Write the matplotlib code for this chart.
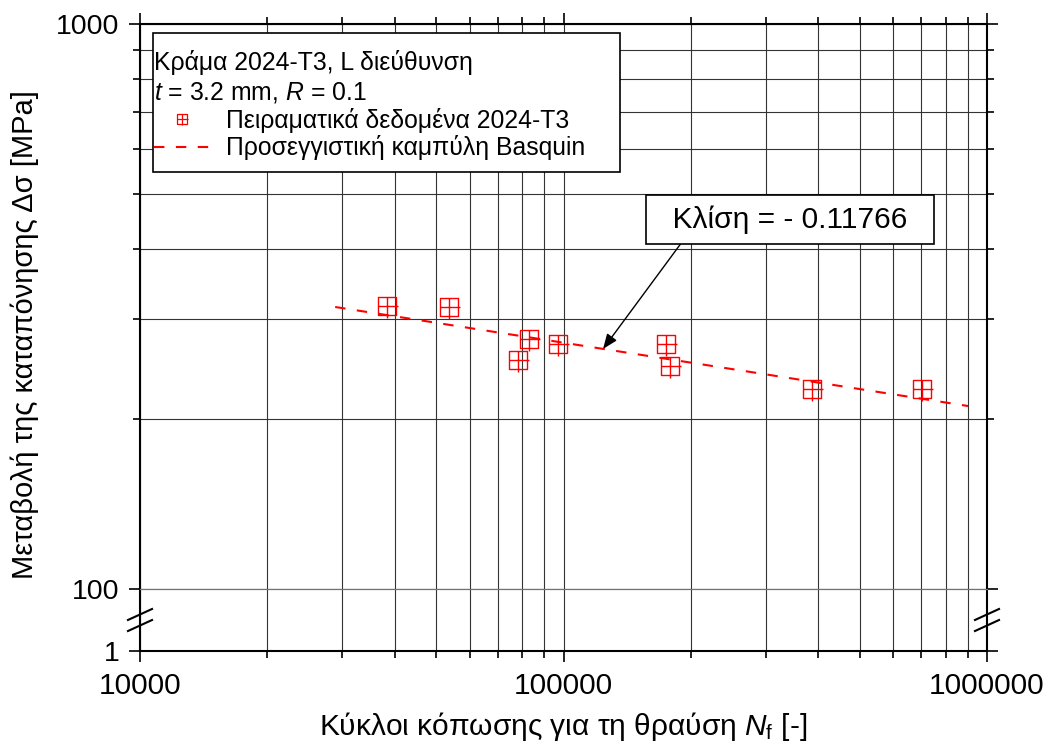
import matplotlib
matplotlib.use("Agg")
import numpy as np
import matplotlib.pyplot as plt
from matplotlib.path import Path
from matplotlib.lines import Line2D
from matplotlib.patches import Rectangle
from matplotlib.ticker import FixedLocator, LogLocator, NullFormatter, FixedFormatter

plt.rcParams['font.family'] = ['Liberation Sans', 'DejaVu Sans']
plt.rcParams['mathtext.fontset'] = 'custom'
plt.rcParams['mathtext.rm'] = 'Liberation Sans'
plt.rcParams['mathtext.it'] = 'Liberation Sans:italic'

# experimental points (cycles to failure, stress range MPa)
cycles = [38300, 53600, 78100, 82900, 97000, 174600, 178400, 386300, 702200]
stress = [317, 316, 254, 277, 271, 271, 248, 226, 226]
# Basquin fit, drawn between its two end points
fit_cycles = [28900, 902000]
fit_stress = [315.6, 210.8]

slope_text = "Κλίση = - 0.11766"
x_major = [1e4, 1e5, 1e6]
x_labels = ['10000', '100000', '1000000']
y_major = [100, 1000]
y_labels = ['100', '1000']
y_minor = [200, 300, 400, 500, 600, 700, 800, 900]

W, H = 1050, 754
def px(l, t, r, b):
    return [l / W, 1 - b / H, (r - l) / W, (b - t) / H]

# square with a cross, cross slightly longer to the right and bottom
verts = [(-1, -1), (1, -1), (1, 1), (-1, 1), (-1, -1),
         (-1, 0), (1.2, 0), (0, 1), (0, -1.3)]
codes = [Path.MOVETO, Path.LINETO, Path.LINETO, Path.LINETO, Path.CLOSEPOLY,
         Path.MOVETO, Path.LINETO, Path.MOVETO, Path.LINETO]
sq_plus = Path(verts, codes)

fig = plt.figure(figsize=(10.5, 7.54), dpi=100)
ax = fig.add_axes(px(140, 24, 987, 589))
axb = fig.add_axes(px(140, 589, 987, 651))

gridkw = dict(color='0.2', lw=0.8)
for a in (ax, axb):
    a.set_xscale('log')
    a.set_xlim(1e4, 1e6)
    a.xaxis.set_major_locator(FixedLocator(x_major))
    a.xaxis.set_minor_locator(LogLocator(base=10, subs=np.arange(2, 10)))
    a.xaxis.set_minor_formatter(NullFormatter())
    a.tick_params(which='both', direction='out', width=1.2, pad=7)
    a.tick_params(axis='x', labelsize=21.5)
    a.tick_params(axis='y', labelsize=20.5)
    a.tick_params(which='major', length=8)
    a.tick_params(which='minor', length=5)
    for s in a.spines.values():
        s.set_linewidth(1.5)
    a.set_axisbelow(True)

ax.set_yscale('log')
ax.set_ylim(100, 1000)
ax.yaxis.set_major_locator(FixedLocator(y_major))
ax.yaxis.set_major_formatter(FixedFormatter(y_labels))
ax.yaxis.set_minor_locator(FixedLocator(y_minor))
ax.yaxis.set_minor_formatter(NullFormatter())
ax.tick_params(which='both', top=True, bottom=False, left=True, right=True,
               labelbottom=False, labeltop=False)
ax.spines['bottom'].set_visible(False)
ax.grid(True, which='both', **gridkw)

axb.set_ylim(1, 2)
axb.set_yticks([1])
axb.set_yticklabels(['1'])
axb.xaxis.set_major_formatter(FixedFormatter(x_labels))
axb.tick_params(which='both', top=False, bottom=True, left=True, right=True)
# the 100 MPa grid line sits on the join of the two axes
axb.spines['top'].set_color('0.45')
axb.spines['top'].set_linewidth(0.9)
axb.xaxis.grid(True, which='both', **gridkw)

# axis break marks
for xc in (0, 1):
    for yc in (0.589, 0.411):
        axb.plot([xc - 0.0142, xc + 0.0142], [yc - 0.0887, yc + 0.0887],
                 color='k', lw=1.5, transform=axb.transAxes, clip_on=False)

ax.plot(fit_cycles, fit_stress, color='r', lw=1.5, ls=(0, (5, 5.5)), zorder=3)
ax.plot(cycles, stress, ls='none', marker=sq_plus, ms=17.2, mec='r', mfc='none',
        mew=1.0, zorder=4)

ax.annotate("  " + slope_text + "  ", xy=(124000, 266), xytext=(342600, 451),
            ha='center', va='center', fontsize=21.5,
            bbox=dict(boxstyle='square,pad=0.34', fc='w', ec='k', lw=1.2),
            arrowprops=dict(arrowstyle='-|>,head_length=0.5,head_width=0.2',
                            color='k', lw=1, relpos=(0.12, 0), shrinkA=0,
                            shrinkB=0, mutation_scale=18), zorder=5)

# legend frame
fig.patches.append(Rectangle((153 / W, 1 - 172 / H), 467 / W, 139 / H,
                             transform=fig.transFigure, fc='w', ec='k', lw=1.2,
                             zorder=5))
h_data = Line2D([], [], ls='none', marker=sq_plus, ms=9, mec='r', mfc='none', mew=0.9)
h_fit = Line2D([], [], color='r', lw=1.5, ls=(0, (5, 5.5)))
leg = fig.legend([h_data, h_fit],
                 ['Πειραματικά δεδομένα 2024-T3', 'Προσεγγιστική καμπύλη Basquin'],
                 title="Κράμα 2024-T3, L διεύθυνση\n$\\it{t}$ = 3.2 mm, $\\it{R}$ = 0.1",
                 alignment='left', loc='upper left',
                 bbox_to_anchor=(154 / W, 1 - 50 / H),
                 bbox_transform=fig.transFigure, fontsize=17.8, title_fontsize=17.8,
                 frameon=False, borderpad=0, handlelength=2.3, handletextpad=0.62,
                 labelspacing=0.1, borderaxespad=0)
leg.get_title().set_linespacing(1.28)
leg.set_zorder(6)

fig.text(563 / W, 1 - 735 / H, "Κύκλοι κόπωσης για τη θραύση $\\it{N}_{\\rm f}$ [-]",
         ha='center', va='baseline', fontsize=21.5)
fig.text(33 / W, 1 - 335 / H, "Μεταβολή της καταπόνησης Δσ [MPa]", rotation=90,
         rotation_mode='anchor', ha='center', va='baseline', fontsize=21)

fig.savefig('out.png', dpi=100)
